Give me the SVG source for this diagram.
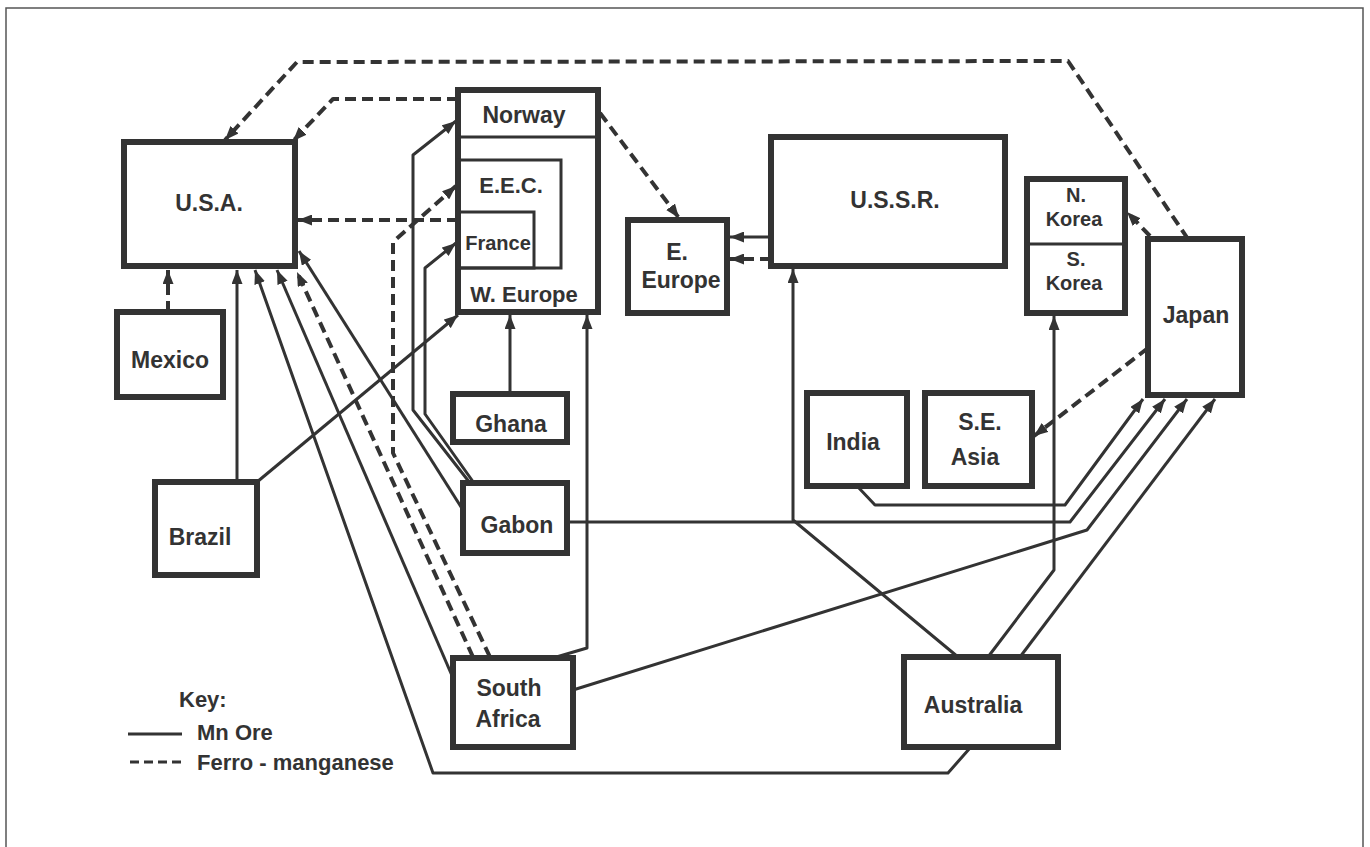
<svg xmlns="http://www.w3.org/2000/svg" width="1370" height="847" viewBox="0 0 1370 847">
<defs>
<marker id="ah" viewBox="0 0 14 11" refX="14" refY="5.5" markerWidth="14" markerHeight="11" markerUnits="userSpaceOnUse" orient="auto">
<path d="M0,0 L14,5.5 L0,11 z" fill="#333"/>
</marker>
<style>
.box{fill:#fff;stroke:#333;stroke-width:6}
.inner{fill:none;stroke:#333;stroke-width:3}
.t{font-family:"Liberation Sans",Arial,sans-serif;font-weight:bold;font-size:23px;fill:#333;text-anchor:middle}
.kr{font-size:20px}
.k{font-family:"Liberation Sans",Arial,sans-serif;font-weight:bold;font-size:22px;fill:#333}
.ore{fill:none;stroke:#333;stroke-width:3;stroke-linejoin:round}
.fm{fill:none;stroke:#333;stroke-width:4;stroke-dasharray:11 6;stroke-linejoin:round}
.arr{marker-end:url(#ah)}
</style>
</defs>
<rect width="1370" height="847" fill="#fff"/>
<path d="M6,847 V8 H1363 V847" fill="none" stroke="#555" stroke-width="1.5"/>

<g id="connectors">
<path class="ore arr" d="M237,482 V270"/>
<path class="ore arr" d="M257,482 L458,315"/>
<path class="ore arr" d="M970,748 L948,773 L433,773 L255,270"/>
<path class="ore arr" d="M453,678 L277,270"/>
<path class="ore arr" d="M463,510 L299,251"/>
<path class="ore arr" d="M470,483 L413,410 L413,155 L456,121"/>
<path class="ore arr" d="M474,483 L425,414 L425,268 L456,243"/>
<path class="ore arr" d="M510,394 V315"/>
<path class="ore arr" d="M553,658 L587,648 V315"/>
<path class="ore arr" d="M567,522 L1070,522 L1165,399"/>
<path class="ore arr" d="M858,487 L875,505 L1065,505 L1143,399"/>
<path class="ore arr" d="M573,690 L1087,530 L1187,399"/>
<path class="ore arr" d="M1020,657 L1215,399"/>
<path class="ore arr" d="M988,657 L1054,570 V316"/>
<path class="ore arr" d="M958,657 L793,520 V269"/>
<path class="ore arr" d="M771,237 H730"/>
<path class="ore arr" d="M512,137 V160"/>

<path class="fm arr" d="M1188,239 L1068,61 L297,62 L225,140"/>
<path class="fm arr" d="M458,99 L333,99 L293,141"/>
<path class="fm arr" d="M458,220 H298"/>
<path class="fm arr" d="M490,657 L393,453 V242 L456,186"/>
<path class="fm arr" d="M473,657 L297,272"/>
<path class="fm arr" d="M168,312 V270"/>
<path class="fm arr" d="M600,113 L679,218"/>
<path class="fm arr" d="M771,259 H730"/>
<path class="fm arr" d="M574,137 V190"/>
<path class="fm arr" d="M534,242 H559"/>
<path class="fm arr" d="M1150,236 L1127,212"/>
<path class="fm arr" d="M1148,348 L1034,436"/>
</g>

<g id="usa"><rect class="box" x="124" y="142" width="171" height="124"/><text class="t" x="209" y="211">U.S.A.</text></g>
<g id="mexico"><rect class="box" x="117" y="312" width="106" height="85"/><text class="t" x="170" y="368">Mexico</text></g>
<g id="brazil"><rect class="box" x="155" y="482" width="102" height="93"/><text class="t" x="200" y="545">Brazil</text></g>
<g id="weurope">
<rect class="box" x="458" y="90" width="140" height="222"/>
<line class="inner" x1="458" y1="137" x2="598" y2="137"/>
<rect class="inner" x="458" y="160" width="103" height="108"/>
<rect class="inner" x="458" y="212" width="76" height="56"/>
<text class="t" x="524" y="123">Norway</text>
<text class="t" x="511" y="193" style="font-size:22px">E.E.C.</text>
<text class="t" x="498" y="250" style="font-size:20px">France</text>
<text class="t" x="524" y="302" style="font-size:22px">W. Europe</text>
</g>
<g id="ghana"><rect class="box" x="453" y="394" width="114" height="48"/><text class="t" x="511" y="432">Ghana</text></g>
<g id="gabon"><rect class="box" x="463" y="483" width="104" height="70"/><text class="t" x="517" y="533">Gabon</text></g>
<g id="southafrica"><rect class="box" x="453" y="658" width="120" height="89"/><text class="t" x="509" y="696">South</text><text class="t" x="508" y="727">Africa</text></g>
<g id="eeurope"><rect class="box" x="628" y="220" width="99" height="93"/><text class="t" x="677" y="260">E.</text><text class="t" x="681" y="288">Europe</text></g>
<g id="ussr"><rect class="box" x="771" y="137" width="234" height="129"/><text class="t" x="895" y="208">U.S.S.R.</text></g>
<g id="korea">
<rect class="box" x="1027" y="179" width="98" height="134"/>
<line class="inner" x1="1027" y1="244" x2="1125" y2="244"/>
<text class="t kr" x="1076" y="202">N.</text><text class="t kr" x="1074" y="226">Korea</text>
<text class="t kr" x="1076" y="266">S.</text><text class="t kr" x="1074" y="290">Korea</text>
</g>
<g id="japan"><rect class="box" x="1148" y="239" width="94" height="156"/><text class="t" x="1196" y="323">Japan</text></g>
<g id="india"><rect class="box" x="807" y="393" width="100" height="93"/><text class="t" x="853" y="450">India</text></g>
<g id="seasia"><rect class="box" x="925" y="393" width="107" height="93"/><text class="t" x="980" y="430">S.E.</text><text class="t" x="975" y="465">Asia</text></g>
<g id="australia"><rect class="box" x="904" y="657" width="154" height="90"/><text class="t" x="973" y="713">Australia</text></g>

<g id="key">
<text class="k" x="179" y="707">Key:</text>
<line x1="128" y1="734" x2="182" y2="734" stroke="#333" stroke-width="3"/>
<text class="k" x="197" y="740">Mn Ore</text>
<line x1="130" y1="762" x2="183" y2="762" stroke="#333" stroke-width="3" stroke-dasharray="9 5"/>
<text class="k" x="197" y="770">Ferro - manganese</text>
</g>
</svg>
